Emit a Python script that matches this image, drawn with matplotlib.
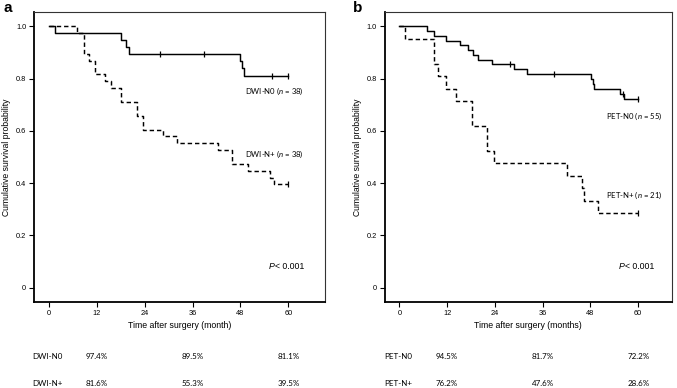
import numpy as np
import matplotlib
matplotlib.use('Agg')
import matplotlib.pyplot as plt
from matplotlib.transforms import blended_transform_factory

plt.rcParams['font.family'] = ['Liberation Sans', 'DejaVu Sans']
plt.rcParams['mathtext.fontset'] = 'custom'
plt.rcParams['mathtext.rm'] = 'Lato'
plt.rcParams['mathtext.it'] = 'Lato:italic'

# Kaplan-Meier steps (months, survival)
dwi_n0_t = [0, 1.5, 18.0, 19.2, 20.1, 47.9, 48.3, 48.9, 60]
dwi_n0_s = [1.0, 0.974, 0.947, 0.921, 0.895, 0.868, 0.842, 0.811, 0.811]
dwi_n0_cens = [27.8, 38.8, 55.8, 60]

dwi_np_t = [0, 6.9, 8.7, 10.1, 11.5, 14.0, 15.5, 18.0, 22.0, 23.6, 28.6, 32.0,
            42.3, 45.8, 49.9, 55.4, 56.4, 60]
dwi_np_s = [1.0, 0.974, 0.895, 0.868, 0.816, 0.789, 0.763, 0.711, 0.658, 0.605,
            0.579, 0.553, 0.526, 0.474, 0.447, 0.421, 0.395, 0.395]
dwi_np_cens = [60]

pet_n0_t = [0, 6.9, 8.7, 11.7, 15.3, 17.2, 18.4, 19.7, 23.2, 28.8, 32.0,
            48.1, 48.6, 49.0, 55.5, 56.5, 60]
pet_n0_s = [1.0, 0.982, 0.964, 0.945, 0.927, 0.909, 0.891, 0.873, 0.855, 0.836,
            0.817, 0.798, 0.779, 0.760, 0.741, 0.722, 0.722]
pet_n0_cens = [27.8, 38.9, 56.1, 60]

pet_np_t = [0, 1.4, 8.8, 9.8, 11.7, 14.2, 18.2, 22.0, 23.8, 42.2, 45.8, 46.3, 49.9, 60]
pet_np_s = [1.0, 0.952, 0.857, 0.810, 0.762, 0.714, 0.619, 0.524, 0.476, 0.429,
            0.381, 0.333, 0.286, 0.286]
pet_np_cens = [60]

xticks = [0, 12, 24, 36, 48, 60]
yticks = [0, 0.2, 0.4, 0.6, 0.8, 1.0]
ytick_labels = ['0', '0.2', '0.4', '0.6', '0.8', '1.0']
table_times = [12, 36, 60]

dwi_rows = ['DWI-N0', 'DWI-N+']
dwi_table = [['97.4%', '89.5%', '81.1%'], ['81.6%', '55.3%', '39.5%']]
pet_rows = ['PET-N0', 'PET-N+']
pet_table = [['94.5%', '81.7%', '72.2%'], ['76.2%', '47.6%', '28.6%']]

W, H = 677, 388
fig = plt.figure(figsize=(W / 100, H / 100), dpi=100)


def px_axes(x0, x1, y0, y1):
    return fig.add_axes([x0 / W, 1 - y1 / H, (x1 - x0) / W, (y1 - y0) / H])


def step_val(t, s, x):
    i = np.searchsorted(t, x, side='right') - 1
    return s[i]


def km(ax, t, s, cens, ls):
    ax.step(t, s, where='post', color='black', lw=1.05, linestyle=ls)
    cy = [step_val(t, s, c) for c in cens]
    ax.plot(cens, cy, linestyle='none', marker='|', color='black', ms=5, mew=0.9)


def style_axes(ax, xlim, xlabel, ylabel_x):
    ax.set_xlim(*xlim)
    ax.set_ylim(-0.0547, 1.0536)
    ax.set_xticks(xticks)
    ax.set_xticklabels([str(x) for x in xticks], fontsize=5.3)
    ax.set_yticks(yticks)
    ax.set_yticklabels(ytick_labels, fontsize=5.3)
    ax.tick_params(direction='out', length=3.5, width=0.8, pad=2, colors='black')
    for side in ['top', 'right']:
        ax.spines[side].set_linewidth(0.8)
        ax.spines[side].set_color('#333333')
    for side in ['left', 'bottom']:
        ax.spines[side].set_linewidth(1.3)
    ax.set_xlabel(xlabel, fontsize=6.3, labelpad=3)
    ax.set_ylabel('Cumulative survival probability', fontsize=6.2)
    ax.yaxis.set_label_coords(ylabel_x, 0.5)


def p_value(ax, x, y):
    ax.text(x, y, 'P', fontsize=6.3, style='italic', va='center', ha='left')
    ax.annotate('< 0.001', xy=(x, y), xytext=(4.3, 0), textcoords='offset points',
                fontsize=6.3, va='center', ha='left')


def table(ax, rows, vals, label_x):
    tr = blended_transform_factory(ax.transData, fig.transFigure)
    for r, (name, row) in enumerate(zip(rows, vals)):
        y = [0.0807, 0.0121][r]
        ax.text(label_x, y, name, transform=tr, fontsize=5.8, family='Lato',
                va='center', ha='left', clip_on=False)
        for t, v in zip(table_times, row):
            ax.text(t, y, v, transform=tr, fontsize=5.8, family='Lato',
                    va='center', ha='center', clip_on=False)


# panel a
ax1 = px_axes(34, 325, 12.3, 302)
km(ax1, dwi_n0_t, dwi_n0_s, dwi_n0_cens, '-')
km(ax1, dwi_np_t, dwi_np_s, dwi_np_cens, (0, (3, 2)))
style_axes(ax1, (-3.76, 69.2), 'Time after surgery (month)', -0.08)
ax1.text(49.1, 0.75, 'DWI-N0 ($n$ = 38)', fontsize=5.6, family='Lato', va='center')
ax1.text(49.1, 0.511, 'DWI-N+ ($n$ = 38)', fontsize=5.6, family='Lato', va='center')
p_value(ax1, 55.1, 0.08)
table(ax1, dwi_rows, dwi_table, -4.3)

# panel b
ax2 = px_axes(384.7, 671.7, 12.3, 302)
km(ax2, pet_n0_t, pet_n0_s, pet_n0_cens, '-')
km(ax2, pet_np_t, pet_np_s, pet_np_cens, (0, (3, 2)))
style_axes(ax2, (-3.67, 68.4), 'Time after surgery (months)', -0.08)
ax2.text(51.8, 0.657, 'PET-N0 ($n$ = 55)', fontsize=5.6, family='Lato', va='center')
ax2.text(51.8, 0.355, 'PET-N+ ($n$ = 21)', fontsize=5.6, family='Lato', va='center')
p_value(ax2, 55.1, 0.08)
table(ax2, pet_rows, pet_table, -3.9)

fig.text(3 / W, 1 - 1 / H, 'a', fontsize=11, weight='bold', va='top', ha='left')
fig.text(353 / W, 1 - 1 / H, 'b', fontsize=11, weight='bold', va='top', ha='left')

fig.savefig('out.png', dpi=100)
